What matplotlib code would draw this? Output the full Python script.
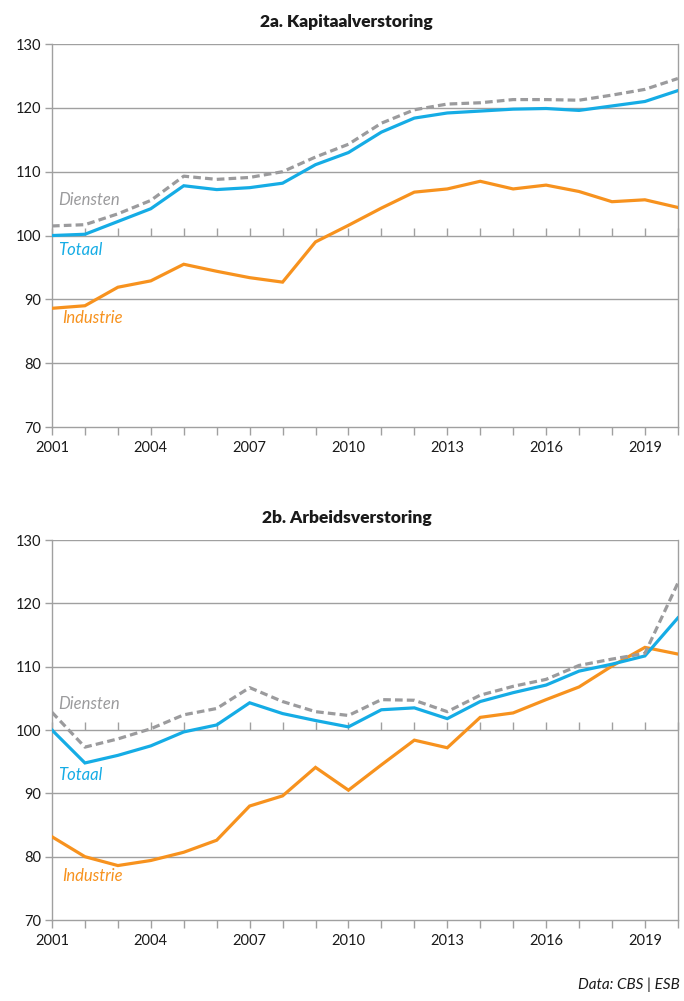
import matplotlib
matplotlib.use("Agg")
import matplotlib.pyplot as plt
import numpy as np

plt.rcParams['font.family'] = ['Lato', 'DejaVu Sans']

years = list(range(2001, 2021))

# 2a. Kapitaalverstoring
kap_totaal = [100.0, 100.2, 102.2, 104.2, 107.8, 107.2, 107.5, 108.2, 111.1, 113.0,
              116.2, 118.4, 119.2, 119.5, 119.8, 119.9, 119.6, 120.3, 121.0, 122.7]
kap_diensten = [101.5, 101.7, 103.4, 105.5, 109.3, 108.8, 109.1, 110.0, 112.3, 114.3,
                117.6, 119.7, 120.6, 120.8, 121.3, 121.3, 121.2, 122.0, 122.9, 124.6]
kap_industrie = [88.6, 89.0, 91.9, 92.9, 95.5, 94.4, 93.4, 92.7, 99.0, 101.6,
                 104.3, 106.8, 107.3, 108.5, 107.3, 107.9, 106.9, 105.3, 105.6, 104.4]

# 2b. Arbeidsverstoring
arb_totaal = [100.0, 94.8, 96.0, 97.5, 99.7, 100.8, 104.3, 102.6, 101.5, 100.5,
              103.2, 103.5, 101.8, 104.5, 105.9, 107.1, 109.3, 110.4, 111.7, 117.7]
arb_diensten = [102.8, 97.3, 98.6, 100.2, 102.4, 103.4, 106.7, 104.5, 102.9, 102.3,
                104.8, 104.7, 102.9, 105.5, 106.9, 108.0, 110.2, 111.2, 112.1, 123.2]
arb_industrie = [83.15, 80.0, 78.6, 79.4, 80.7, 82.6, 88.0, 89.6, 94.1, 90.5,
                 94.5, 98.4, 97.2, 102.0, 102.7, 104.8, 106.8, 110.1, 113.05, 112.0]

titles = ["2a. Kapitaalverstoring", "2b. Arbeidsverstoring"]
yticks = [70, 80, 90, 100, 110, 120, 130]
xtick_labels = [2001, 2004, 2007, 2010, 2013, 2016, 2019]

BLUE = "#15ACE5"
ORANGE = "#F7921E"
GRAY = "#9B9B9D"
GRID = "#A0A0A0"
TXT = "#1a1a1a"

fig = plt.figure(figsize=(6.84, 10.01), dpi=100)

panels = [
    (kap_totaal, kap_diensten, kap_industrie, [0.076, 0.5734, 0.915, 0.3826],
     {"Diensten": 105.6, "Totaal": 97.8, "Industrie": 87.1}),
    (arb_totaal, arb_diensten, arb_industrie, [0.076, 0.0809, 0.915, 0.3796],
     {"Diensten": 104.1, "Totaal": 92.9, "Industrie": 77.0}),
]

for i, (tot, die, ind, pos, lab) in enumerate(panels):
    ax = fig.add_axes(pos)
    ax.set_xlim(2001, 2020)
    ax.set_ylim(70, 130)
    ax.set_yticks(yticks)
    ax.set_xticks(years)
    ax.set_xticklabels([str(y) if y in xtick_labels else "" for y in years])
    for y in yticks[1:]:
        ax.axhline(y, color=GRID, lw=1.0, zorder=1)
    for s in ["left", "right", "bottom"]:
        ax.spines[s].set_color(GRID)
        ax.spines[s].set_linewidth(1.0)
    ax.spines["top"].set_visible(False)
    ax.tick_params(axis="y", length=5, width=1.0, color=GRID, labelsize=10.5,
                   labelcolor=TXT, pad=3)
    ax.tick_params(axis="x", length=6, width=1.0, color=GRID, labelsize=10.5,
                   labelcolor=TXT, pad=4, direction="out")
    sec = ax.secondary_xaxis(0.5)
    sec.set_xticks(years)
    sec.set_xticklabels([])
    sec.tick_params(axis="x", direction="out", length=6, width=1.0, color=GRID)
    sec.spines["bottom"].set_visible(False)
    sec.spines["top"].set_visible(False)

    ax.plot(years, ind, color=ORANGE, lw=2.3, zorder=3, solid_joinstyle="miter")
    ax.plot(years, tot, color=BLUE, lw=2.3, zorder=4, solid_joinstyle="miter")
    ax.plot(years, die, color=GRAY, lw=2.3, ls=(0, (2.4, 1.3)), zorder=5)

    ax.text(2001.2, lab["Diensten"], "Diensten", color=GRAY, style="italic",
            fontsize=12, ha="left", va="center")
    ax.text(2001.2, lab["Totaal"], "Totaal", color=BLUE, style="italic",
            fontsize=12, ha="left", va="center")
    ax.text(2001.3, lab["Industrie"], "Industrie", color=ORANGE, style="italic",
            fontsize=12, ha="left", va="center")

    ax.set_title(titles[i], fontsize=12.5, fontweight="heavy", color=TXT, pad=12,
                 x=0.471)

fig.text(0.994, 0.016, "Data: CBS | ESB", ha="right", va="center",
         fontsize=11, style="italic", color=TXT)

fig.savefig("out.png", dpi=100)
